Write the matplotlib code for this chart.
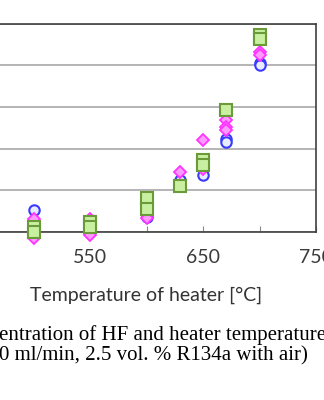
import numpy as np
import matplotlib
matplotlib.use("Agg")
import matplotlib.pyplot as plt

# heater temperature [deg C] and HF readings (three runs)
temp_blue = [500, 550, 600, 630, 650, 670, 670, 700, 700]
hf_blue = [26, 10, 18, 62, 68, 112, 108, 203, 200]

temp_pink = [500, 500, 550, 550, 600, 630, 650, 650, 670, 670, 670, 700, 700]
hf_pink = [16, -7, 16, -4, 17, 72, 110, 76, 134, 126, 122, 216, 212]

temp_green = [500, 500, 550, 550, 600, 600, 630, 650, 650, 670, 700, 700]
hf_green = [6, 0, 12, 6, 41, 28, 55, 86, 80, 146, 236, 232]

x_ticks = [450, 500, 550, 600, 650, 700, 750]
x_labels = ["", "", "550", "", "650", "", "750"]

fig = plt.figure(figsize=(3.24, 4.0), dpi=100)
ax = fig.add_axes([-23 / 324, 168 / 400, 339 / 324, 208.5 / 400])

ax.plot(temp_blue, hf_blue, "o", ms=7.5, mfc="#e8ecff", mec="#3a3aff", mew=1.5, ls="none", clip_on=False, zorder=3)
ax.plot(temp_pink, hf_pink, "D", ms=6.5, mfc="#ff99ff", mec="#ff33ff", mew=1.3, ls="none", clip_on=False, zorder=4)
ax.plot(temp_green, hf_green, "s", ms=8, mfc="#c8f0a0", mec="#6a9a3a", mew=1.5, ls="none", clip_on=False, zorder=5)

ax.set_xlim(450, 750)
ax.set_ylim(0, 250)
ax.set_yticks(np.arange(0, 251, 50))
ax.yaxis.grid(True, color="#a8a8a8", lw=1.2)
ax.set_axisbelow(True)
ax.tick_params(axis="y", length=0, labelleft=False)
ax.set_xticks(x_ticks)
ax.set_xticklabels(x_labels, fontfamily="Lato", fontsize=14, color="#3a3a3a")
ax.tick_params(axis="x", direction="in", length=4, color="#888888", pad=12)
for s in ["top", "right", "bottom"]:
    ax.spines[s].set_color("#404040")
    ax.spines[s].set_linewidth(1.2)

ax.set_xlabel("Temperature of heater [\u00b0C]", fontfamily="Lato", fontsize=14, color="#333333", labelpad=15)

fig.text(-0.003, 0.15, "entration of HF and heater temperature",
         fontfamily="Liberation Serif", fontsize=15, ha="left", va="baseline")
fig.text(-0.003, 0.10, "0 ml/min, 2.5 vol. % R134a with air)",
         fontfamily="Liberation Serif", fontsize=15, ha="left", va="baseline")

fig.savefig("out.png", dpi=100)
